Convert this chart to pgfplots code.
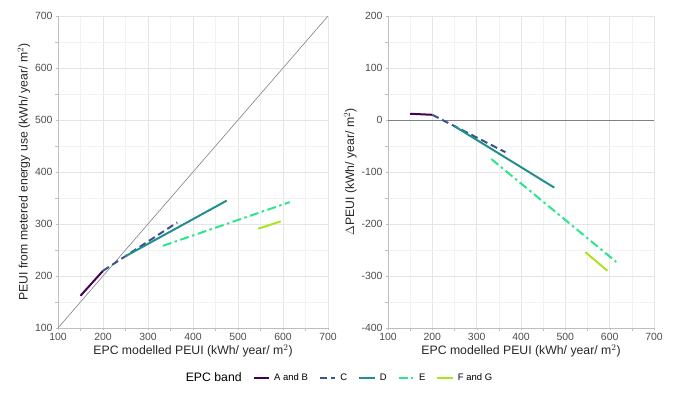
\documentclass[border=0pt]{standalone}
\usepackage{fontspec}
\setmainfont{Liberation Sans}
\usepackage{pgfplots}
\pgfplotsset{compat=1.18}
\definecolor{cAB}{RGB}{68,1,84}
\definecolor{cC}{RGB}{59,82,139}
\definecolor{cD}{RGB}{33,144,140}
\definecolor{cE}{RGB}{42,230,140}
\definecolor{cFG}{RGB}{170,228,30}
\definecolor{txt}{RGB}{77,77,77}
\definecolor{axl}{RGB}{190,190,190}
\pgfplotsset{
  myaxis/.style={
    scale only axis,
    height=312bp,
    xmin=100, xmax=700,
    xtick={100,200,...,700},
    minor xtick={150,250,...,650},
    axis x line*=bottom, axis y line*=left,
    axis line style={axl, line width=0.8pt},
    major tick length=2pt,
    tick style={axl},
    tick align=outside,
    grid=both,
    major grid style={black!10, line width=0.6pt},
    minor grid style={black!5, line width=0.5pt},
    ticklabel style={font=\fontsize{10.5}{12}\selectfont, text=txt},
    label style={font=\fontsize{12.3}{14}\selectfont, text=black!85},
    /pgf/number format/assume math mode=true,
    clip=false,
    xlabel={EPC modelled PEUI (kWh/ year/ m$^{2}$)},
    xlabel style={yshift=3pt},
  },
  AB/.style={cAB, line width=2pt},
  C/.style={cC, line width=2pt, dash pattern=on 7pt off 4pt},
  D/.style={cD, line width=2pt},
  E/.style={cE, line width=2pt, dash pattern=on 9pt off 3.5pt on 2.5pt off 3.5pt},
  FG/.style={cFG, line width=2pt},
}
\begin{document}
\begin{tikzpicture}
\path[use as bounding box] (0,0) rectangle (673bp,399bp);
\begin{axis}[myaxis, at={(58bp,71bp)}, anchor=south west, width=270bp,
  ymin=100, ymax=700, ytick={100,200,...,700}, minor ytick={150,250,...,650},
  ylabel={PEUI from metered energy use (kWh/ year/ m$^{2}$)},
  ylabel style={yshift=-2pt},
  legend columns=6,
  legend style={at={(1.037,-0.16)}, anchor=center, draw=none, fill=none,
    font=\fontsize{9.5}{11}\selectfont, column sep=2pt,
    /tikz/every even column/.append style={column sep=9pt}},
  legend image code/.code={\draw[#1, dash phase=0pt] (0cm,0cm) -- (0.55cm,0cm);},
  legend cell align=left,
]
\addplot[gray, line width=0.6pt, forget plot] coordinates {(100,100) (700,700)};
\addlegendimage{empty legend}
\addlegendentry{\fontsize{12.3}{14}\selectfont EPC band}
\addplot[AB] coordinates {(150,162) (200,210)};
\addlegendentry{A and B}
\addplot[C] coordinates {(200,210) (365,303)};
\addlegendentry{C}
\addplot[D] coordinates {(250,238) (475,345)};
\addlegendentry{D}
\addplot[E] coordinates {(333,258) (615,342)};
\addlegendentry{E}
\addplot[FG] coordinates {(545,291) (595,305)};
\addlegendentry{F and G}
\end{axis}
\begin{axis}[myaxis, at={(388bp,71bp)}, anchor=south west, width=266bp,
  ymin=-400, ymax=200, ytick={-400,-300,...,200}, minor ytick={-350,-250,...,150},
  ylabel={$\Delta$PEUI (kWh/ year/ m$^{2}$)},
  ylabel style={yshift=-2pt},
]
\addplot[gray, line width=0.8pt] coordinates {(100,0) (700,0)};
\addplot[AB] coordinates {(150,12) (200,10)};
\addplot[C] coordinates {(200,10) (365,-62)};
\addplot[D] coordinates {(250,-12) (475,-130)};
\addplot[E] coordinates {(333,-75) (615,-273)};
\addplot[FG] coordinates {(545,-254) (595,-290)};
\end{axis}
\end{tikzpicture}
\end{document}
